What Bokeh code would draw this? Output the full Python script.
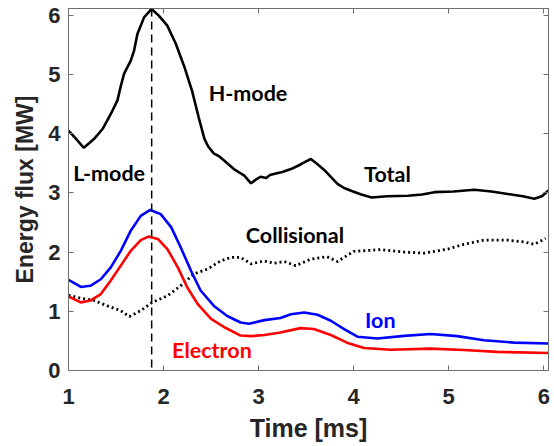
from bokeh.plotting import figure
from bokeh.models import LinearAxis, FixedTicker, Range1d, Span, Label
from bokeh.embed import file_html
from bokeh.resources import INLINE

# ---- data ----
total_t = [1.00, 1.08, 1.16, 1.22, 1.27, 1.36, 1.445, 1.515, 1.55, 1.585, 1.655, 1.69, 1.725,
           1.795, 1.873, 1.95, 2.04, 2.13, 2.22, 2.30, 2.37, 2.43, 2.47, 2.53, 2.58, 2.64,
           2.74, 2.85, 2.92, 2.97, 3.02, 3.08, 3.12, 3.17, 3.25, 3.34, 3.42, 3.49, 3.55,
           3.62, 3.70, 3.77, 3.83, 3.90, 3.98, 4.08, 4.19, 4.35, 4.57, 4.72, 4.85, 5.05, 5.27,
           5.45, 5.62, 5.78, 5.90, 5.98, 6.05]
total_flux = [4.05, 3.91, 3.76, 3.84, 3.91, 4.08, 4.33, 4.56, 4.80, 5.01, 5.23, 5.40, 5.68,
              5.96, 6.10, 5.99, 5.82, 5.51, 5.12, 4.72, 4.27, 3.91, 3.78, 3.66, 3.62, 3.54,
              3.40, 3.29, 3.16, 3.22, 3.27, 3.25, 3.30, 3.32, 3.35, 3.40, 3.46, 3.52, 3.57,
              3.48, 3.37, 3.25, 3.15, 3.08, 3.03, 2.97, 2.92, 2.94, 2.95, 2.97, 3.01, 3.02, 3.05,
              3.02, 2.98, 2.94, 2.90, 2.94, 3.04]

ion_t = [1.00, 1.13, 1.23, 1.34, 1.445, 1.55, 1.655, 1.76, 1.86, 1.97, 2.08, 2.18, 2.29, 2.39,
         2.53, 2.67, 2.81, 2.90, 3.06, 3.23, 3.34, 3.48, 3.62, 3.76, 3.90, 4.04, 4.25, 4.53,
         4.81, 5.09, 5.37, 5.69, 6.05]
ion_flux = [1.53, 1.41, 1.43, 1.54, 1.74, 2.02, 2.36, 2.61, 2.71, 2.64, 2.42, 2.08, 1.68, 1.35,
            1.09, 0.92, 0.81, 0.79, 0.85, 0.885, 0.95, 0.98, 0.94, 0.84, 0.70, 0.57, 0.54, 0.585,
            0.615, 0.58, 0.51, 0.47, 0.455]

ele_t = [1.00, 1.13, 1.23, 1.34, 1.445, 1.55, 1.655, 1.76, 1.84, 1.94, 2.04, 2.15, 2.25, 2.36,
         2.50, 2.64, 2.81, 2.92, 3.06, 3.23, 3.44, 3.58, 3.76, 3.93, 4.11, 4.39, 4.81, 5.16,
         5.51, 6.05]
ele_flux = [1.25, 1.15, 1.18, 1.29, 1.52, 1.77, 2.02, 2.20, 2.26, 2.22, 2.05, 1.74, 1.40, 1.12,
            0.87, 0.73, 0.59, 0.58, 0.60, 0.64, 0.715, 0.70, 0.60, 0.47, 0.38, 0.35, 0.37, 0.345,
            0.315, 0.295]

col_t = [1.00, 1.13, 1.27, 1.41, 1.55, 1.64, 1.76, 1.88, 2.04, 2.18, 2.32, 2.46, 2.60, 2.71,
         2.81, 2.92, 3.06, 3.16, 3.27, 3.39, 3.55, 3.72, 3.83, 4.00, 4.28, 4.53, 4.74, 4.99,
         5.16, 5.37, 5.62, 5.79, 5.90, 6.02]
col_flux = [1.27, 1.22, 1.18, 1.09, 1.01, 0.91, 1.01, 1.15, 1.26, 1.43, 1.63, 1.71, 1.85, 1.91,
            1.91, 1.80, 1.85, 1.81, 1.84, 1.77, 1.88, 1.92, 1.84, 2.01, 2.04, 2.00, 1.98, 2.05,
            2.13, 2.20, 2.20, 2.17, 2.13, 2.23]

transition_time = 1.875

x_ticks = [1, 2, 3, 4, 5, 6]
y_ticks = [0, 1, 2, 3, 4, 5, 6]

annotations = [
    ("H-mode", 2.475, 4.69, "black"),
    ("L-mode", 1.05, 3.34, "black"),
    ("Total", 4.11, 3.32, "black"),
    ("Collisional", 2.866, 2.29, "black"),
    ("Ion", 4.12, 0.845, "#0000FF"),
    ("Electron", 2.09, 0.35, "#FF0000"),
]

AX = "#6e6e6e"
TXT = "#262626"

p = figure(width=554, height=446, output_backend="svg", toolbar_location=None,
           x_range=Range1d(1, 6.05), y_range=Range1d(0, 6.11),
           min_border_left=68, min_border_right=6, min_border_top=8, min_border_bottom=76,
           x_axis_label="Time [ms]", y_axis_label="Energy flux [MW]")
p.grid.visible = False
p.outline_line_color = AX
p.background_fill_color = "white"
p.border_fill_color = "white"

xax = p.below[0]
yax = p.left[0]
for ax in [xax, yax]:
    ax.minor_tick_line_color = None
    ax.major_tick_in = 5
    ax.major_tick_out = 0
    ax.axis_line_color = AX
    ax.major_tick_line_color = AX
    ax.major_label_text_font = "Liberation Sans"
    ax.major_label_text_font_style = "bold"
    ax.major_label_text_font_size = "22px"
    ax.major_label_text_color = TXT
    ax.axis_label_text_font = "Liberation Sans"
    ax.axis_label_text_font_style = "bold"
    ax.axis_label_text_color = TXT
xax.ticker = FixedTicker(ticks=x_ticks)
yax.ticker = FixedTicker(ticks=y_ticks)
xax.axis_label_text_font_size = "25px"
yax.axis_label_text_font_size = "23px"
xax.major_label_standoff = 18
xax.axis_label_standoff = 7
yax.major_label_standoff = 8
yax.axis_label_standoff = 7

# box ticks on top and right (no labels)
top_ax = LinearAxis(ticker=FixedTicker(ticks=x_ticks),
                    major_label_overrides={t: "" for t in x_ticks},
                    major_label_standoff=0)
right_ax = LinearAxis(ticker=FixedTicker(ticks=y_ticks),
                      major_label_overrides={t: "" for t in y_ticks},
                      major_label_standoff=0)
for ax in [top_ax, right_ax]:
    ax.minor_tick_line_color = None
    ax.major_tick_in = 5
    ax.major_tick_out = 0
    ax.axis_line_color = AX
    ax.major_tick_line_color = AX
    ax.major_label_text_font_size = "1px"
p.add_layout(top_ax, "above")
p.add_layout(right_ax, "right")

p.line(total_t, total_flux, line_color="black", line_width=2.6)
p.line(col_t, col_flux, line_color="black", line_width=2.8, line_dash="2 3")
p.line(ion_t, ion_flux, line_color="#0000FF", line_width=2.6)
p.line(ele_t, ele_flux, line_color="#FF0000", line_width=2.6)

p.add_layout(Span(location=transition_time, dimension="height", line_color="black",
                  line_width=1.5, line_dash="8 5"))

for txt, x, y, c in annotations:
    p.add_layout(Label(x=x, y=y, text=txt, text_color=c, text_font="Lato",
                       text_font_style="bold", text_font_size="21.5px",
                       text_baseline="middle", text_align="left"))

open("out.html", "w").write(file_html(p, INLINE))
